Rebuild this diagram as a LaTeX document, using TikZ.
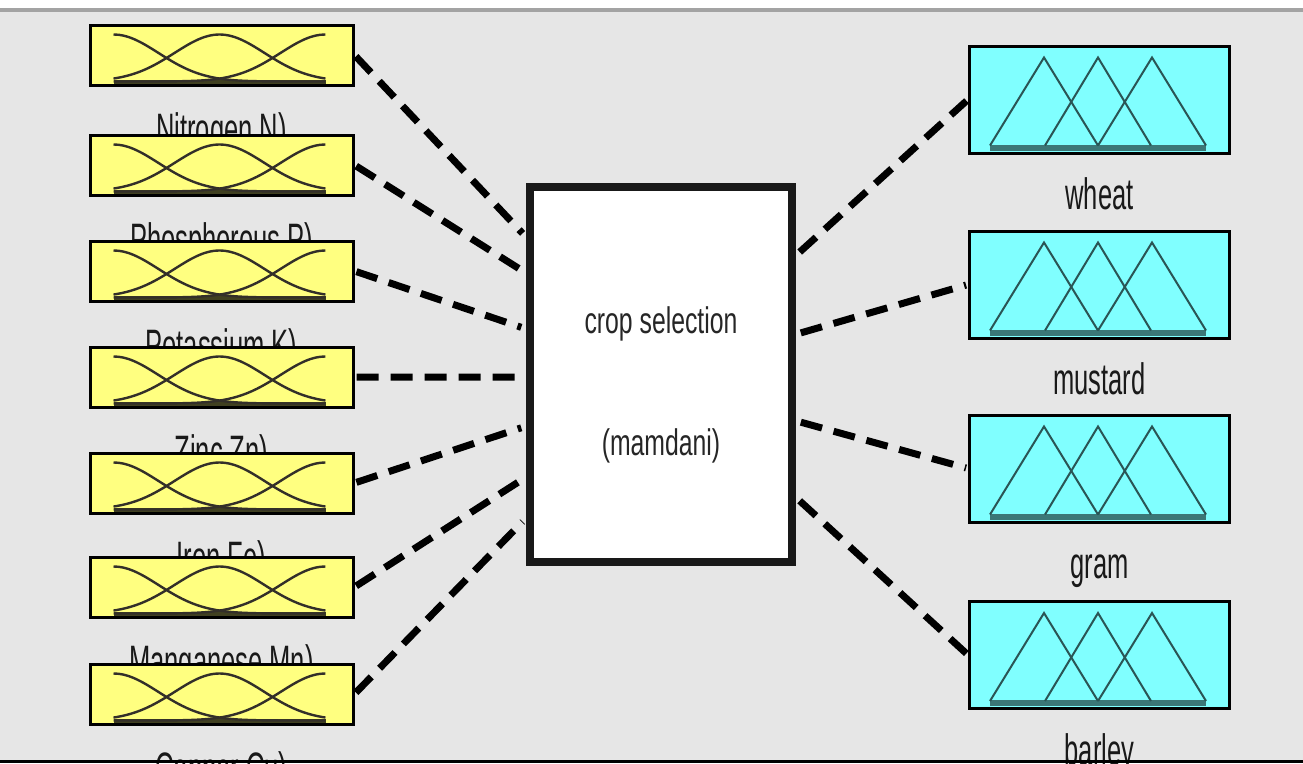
\documentclass[tikz,border=0pt]{standalone}
\usepackage{fontspec}
\setmainfont{Liberation Sans}
\newfontfamily\lblfont{Liberation Sans}[FakeStretch=0.58]
\newfontfamily\fisfont{Liberation Sans}[FakeStretch=0.67]
\usetikzlibrary{calc}
\usetikzlibrary{positioning}
\definecolor{bggray}{HTML}{E6E6E6}
\definecolor{inyellow}{HTML}{FFFF80}
\definecolor{outcyan}{HTML}{80FFFF}
\definecolor{mfteal}{HTML}{2F5F5F}
\tikzstyle{inbox} = [draw, line width=3pt, fill=inyellow, minimum width=263pt, minimum height=60pt, inner sep=0pt]
\tikzstyle{outbox} = [draw, line width=3pt, fill=outcyan, minimum width=260pt, minimum height=107pt, inner sep=0pt]
\tikzstyle{fisbox} = [draw=black!90, line width=8pt, fill=white, minimum width=262pt, minimum height=375pt, inner sep=0pt]
\tikzstyle{link} = [line width=7pt, dash pattern=on 22pt off 12pt]
\tikzstyle{mfcurve} = [line width=2.4pt, black!85!olive]
\tikzstyle{mftri} = [line width=2pt, mfteal!90!black]
\tikzstyle{lbl} = [anchor=base, inner sep=0pt, text=black!90, font=\lblfont\fontsize{44}{44}\selectfont]
\tikzstyle{fistext} = [anchor=base, inner sep=0pt, text=black!85, font=\fisfont\fontsize{37}{37}\selectfont]

\begin{document}
\begin{tikzpicture}[x=1pt, y=-1pt]
    \useasboundingbox (0,0) rectangle (1303,763);
    \fill[white] (0,0) rectangle (1303,8);
    \fill[black!36] (0,8) rectangle (1303,12);
    \fill[bggray] (0,12) rectangle (1303,760);

    % input variables
    \foreach \i/\y/\name in {1/55/{Nitrogen N)}, 2/165/{Phosphorous P)}, 3/271/{Potassium K)}, 4/377/{Zinc Zn)}, 5/483/{Iron Fe)}, 6/587/{Manganese Mn)}, 7/694/{Copper Cu)}}
        \node[lbl] (inlbl\i) at (221.5,{\y+89}) {\name};
    \foreach \i/\y in {1/55, 2/165, 3/271, 4/377, 5/483, 6/587, 7/694} {
        \node[inbox] (in\i) at (221.5,\y) {};
        \begin{scope}[shift={(in\i.south west)}]
            \draw[line width=4pt, black!75!inyellow] (25,-5) -- (237,-5);
            \foreach \c in {0,1,2}
                \draw[mfcurve] plot[domain=0:2, samples=41, smooth] ({25+106*\x}, {-5-47*exp(((\x-\c)^2)/(-0.361))});
        \end{scope}
    }

    % output variables
    \foreach \i/\y/\name in {1/99.5/wheat, 2/284.5/mustard, 3/468.5/gram, 4/655/barley} {
        \node[lbl] (outlbl\i) at (1099.5,{\y+110}) {\name};
        \node[outbox] (out\i) at (1099.5,\y) {};
        \begin{scope}[shift={(out\i.south west)}]
            \draw[line width=6pt, mfteal!85!outcyan] (22,-7) -- (238,-7);
            \draw[mftri] (22,-9) -- (76,-97) -- (130,-9);
            \draw[mftri] (77,-9) -- (130,-97) -- (183,-9);
            \draw[mftri] (130,-9) -- (184,-97) -- (238,-9);
        \end{scope}
    }

    % inference system
    \node[fisbox] (fis) at (661,374.5) {};
    \node[fistext] (fisname) at (661,333) {crop selection};
    \node[fistext] (fistype) at (661,455) {(mamdani)};

    \foreach \i/\f in {1/0.141, 2/0.235, 3/0.381, 4/0.507, 5/0.635, 6/0.768, 7/0.875} {
        \coordinate (fisin\i) at ($(fis.north west)!\f!(fis.south west)$);
        \draw[link, shorten >=5pt, shorten <=2pt] (in\i.east) -- (fisin\i);
    }
    \foreach \i/\f in {1/0.189, 2/0.395, 3/0.621, 4/0.821} {
        \coordinate (fisout\i) at ($(fis.north east)!\f!(fis.south east)$);
        \draw[link, shorten <=5pt, shorten >=2pt] (fisout\i) -- (out\i.west);
    }

    \fill[black] (0,760) rectangle (1303,763);
\end{tikzpicture}
\end{document}
